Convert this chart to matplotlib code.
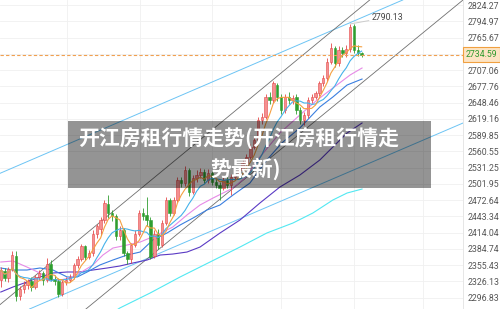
import matplotlib
matplotlib.use('Agg')
import matplotlib.pyplot as plt
import matplotlib.transforms as mtransforms
from matplotlib.patches import Rectangle
import numpy as np
import pandas as pd

# candles
opens = [2328, 2344, 2332, 2348, 2372, 2300, 2312, 2320, 2327, 2316,
         2334, 2341, 2328, 2358, 2331, 2327, 2304, 2325, 2328, 2334,
         2355, 2366, 2389, 2370, 2377, 2412, 2420, 2437, 2466, 2449,
         2443, 2407, 2418, 2377, 2366, 2392, 2412, 2449, 2446, 2437,
         2372, 2412, 2392, 2431, 2472, 2449, 2473, 2509, 2503, 2526,
         2488, 2512, 2518, 2524, 2509, 2521, 2506, 2500, 2494, 2509,
         2500, 2515, 2518, 2527, 2539, 2551, 2569, 2581, 2617, 2623,
         2659, 2653, 2680, 2659, 2635, 2659, 2653, 2658, 2635, 2617,
         2626, 2653, 2659, 2665, 2683, 2692, 2722, 2746, 2719, 2743,
         2737, 2745, 2786, 2743, 2737]
closes = [2346, 2332, 2348, 2373, 2300, 2312, 2320, 2326, 2316, 2334,
          2341, 2328, 2358, 2331, 2327, 2304, 2325, 2328, 2334, 2355,
          2367, 2389, 2370, 2377, 2412, 2425, 2437, 2467, 2449, 2443,
          2407, 2419, 2377, 2366, 2392, 2412, 2449, 2443, 2437, 2370,
          2412, 2392, 2431, 2473, 2449, 2473, 2509, 2503, 2527, 2488,
          2512, 2518, 2524, 2509, 2521, 2506, 2500, 2494, 2509, 2500,
          2515, 2518, 2527, 2539, 2551, 2569, 2581, 2617, 2623, 2659,
          2653, 2683, 2659, 2635, 2659, 2653, 2656, 2635, 2617, 2626,
          2653, 2659, 2665, 2683, 2692, 2722, 2746, 2719, 2743, 2737,
          2745, 2785, 2743, 2737, 2734.59]
highs = [2352, 2350, 2352, 2380, 2380, 2318, 2326, 2331, 2333, 2338,
         2346, 2345, 2368, 2364, 2338, 2332, 2328, 2333, 2340, 2360,
         2372, 2394, 2392, 2382, 2418, 2430, 2442, 2473, 2482, 2455,
         2447, 2425, 2422, 2380, 2396, 2418, 2455, 2458, 2478, 2442,
         2418, 2420, 2436, 2478, 2476, 2478, 2514, 2515, 2534, 2530,
         2518, 2526, 2530, 2528, 2528, 2525, 2512, 2505, 2514, 2516,
         2520, 2524, 2532, 2544, 2556, 2574, 2586, 2622, 2630, 2664,
         2668, 2688, 2684, 2664, 2664, 2668, 2662, 2664, 2640, 2632,
         2658, 2664, 2670, 2688, 2698, 2728, 2755, 2750, 2750, 2748,
         2752, 2790.13, 2790, 2752, 2740]
lows = [2316, 2326, 2325, 2345, 2291, 2293, 2305, 2312, 2308, 2312,
        2328, 2320, 2325, 2326, 2320, 2297, 2300, 2320, 2324, 2330,
        2350, 2362, 2364, 2366, 2372, 2405, 2410, 2432, 2440, 2435,
        2400, 2400, 2372, 2358, 2360, 2388, 2408, 2436, 2425, 2366,
        2368, 2385, 2388, 2428, 2443, 2445, 2470, 2496, 2498, 2480,
        2484, 2506, 2512, 2503, 2504, 2500, 2494, 2472, 2490, 2494,
        2482, 2510, 2514, 2522, 2534, 2546, 2564, 2576, 2610, 2618,
        2645, 2648, 2652, 2628, 2630, 2646, 2646, 2628, 2610, 2608,
        2620, 2648, 2654, 2660, 2678, 2688, 2718, 2712, 2715, 2730,
        2730, 2740, 2738, 2732, 2730]

# moving average lines: (bar, price)
ma20_x = [0, 3.2, 6.8, 10.2, 12.8, 15.4, 18.0, 20.6, 24.0, 26.6, 29.2, 32.9,
          36.3, 40.7, 44.8, 48.5, 51.9, 55.3, 60.5, 63.6, 67.5, 72.7, 77.9,
          82.4, 86.5, 91.0, 94.1]
ma20_y = [2360.9, 2362.7, 2351.9, 2341.1, 2328.4, 2328.4, 2332.0, 2341.1,
          2355.5, 2373.5, 2386.1, 2391.5, 2396.9, 2409.6, 2424.0, 2445.7,
          2463.7, 2476.3, 2494.3, 2512.4, 2550.2, 2593.5, 2625.9, 2653.0,
          2674.6, 2698.1, 2710.7]
ma30_x = [0, 3.2, 6.8, 10.2, 13.6, 17.3, 19.9, 22.5, 25.8, 29.2, 32.9, 36.3,
          39.6, 43.3, 46.7, 50.1, 53.7, 57.1, 60.5, 64.9, 69.3, 73.2, 77.9,
          83.1, 86.5, 90.2, 94.1]
ma30_y = [2350.1, 2346.5, 2346.5, 2350.1, 2346.5, 2333.9, 2333.9, 2342.9,
          2355.5, 2364.5, 2373.5, 2378.9, 2400.6, 2413.2, 2427.6, 2440.3,
          2454.7, 2463.7, 2481.7, 2503.3, 2544.8, 2575.5, 2602.5, 2640.4,
          2658.4, 2680.0, 2690.8]
ma60_x = [0, 3.2, 6.8, 10.2, 13.6, 17.3, 20.6, 24.0, 27.7, 31.0, 34.4, 38.1,
          41.5, 44.8, 48.5, 51.9, 57.1, 62.3, 67.5, 72.7, 77.9,
          83.1, 86.5, 90.2, 94.1]
ma60_y = [2306.8, 2315.9, 2324.8, 2333.9, 2341.1, 2342.9, 2342.9, 2346.5,
          2350.1, 2353.7, 2359.1, 2364.5, 2373.5, 2375.3, 2378.9, 2387.9,
          2413.2, 2436.6, 2467.3, 2496.1, 2517.7, 2544.8,
          2568.2, 2593.5, 2611.5]
ma120_x = [29.7, 31.0, 38.9, 46.7, 54.5, 62.3, 69.3, 76.1, 81.3, 86.5, 90.2, 94.1]
ma120_y = [2272.0, 2278.0, 2305.0, 2333.9, 2360.9, 2387.9, 2413.2, 2431.2,
           2449.3, 2472.7, 2485.3, 2492.5]

# channel lines, two anchor points each: (bar0, price0, bar1, price1)
blue_upper = (0, 2521.4, 104.7, 2833.3)
blue_lower = (8.1, 2278.0, 120.4, 2611.5)
gray_upper = (0, 2285.2, 96.1, 2833.3)
gray_lower = (22.5, 2278.0, 120.4, 2833.3)

ytick_vals = [2296.83, 2326.13, 2355.43, 2384.74, 2414.04, 2443.34, 2472.64,
              2501.95, 2531.25, 2560.55, 2589.85, 2619.16, 2648.46, 2677.76,
              2707.06, 2736.37, 2765.67, 2794.97, 2824.27]
vgrid_bars = [17.3, 36.3, 55.1, 73.0, 92.0, 110.0]

last_price = 2734.59
max_price = 2790.13
max_bar = 91
title_1 = '开江房租行情走势(开江房租行情走'
title_2 = '势最新)'

UP_FACE = '#f49090'
UP_EDGE = '#e54848'
DOWN = '#2f9e2f'
NUM_FONT = ['Roboto', 'DejaVu Sans']


def Plot_Candles(ax, o, c, h, l):
    x = np.arange(len(c))
    o = np.asarray(o, float)
    c = np.asarray(c, float)
    up = c >= o
    body_lo = np.minimum(o, c)
    body_h = np.maximum(np.abs(c - o), 0.8)
    cols = np.where(up, UP_EDGE, DOWN)
    ax.vlines(x, l, h, colors=cols, lw=0.6, zorder=3)
    ax.bar(x[up], body_h[up], bottom=body_lo[up], width=0.62,
           color=UP_FACE, edgecolor=UP_EDGE, linewidth=0.4, zorder=4)
    ax.bar(x[~up], body_h[~up], bottom=body_lo[~up], width=0.62,
           color=DOWN, edgecolor=DOWN, linewidth=0.4, zorder=4)


fig = plt.figure(figsize=(5.0, 3.09), dpi=100)
ax = fig.add_axes([0, 0, 463 / 500, 1])

# grid
for v in ytick_vals:
    ax.axhline(v, color='#f0f0f0', lw=0.6, zorder=0)
for b in vgrid_bars:
    ax.axvline(b, color='#f0f0f0', lw=0.6, zorder=0)

# channels
for (x0, y0, x1, y1) in (blue_upper, blue_lower):
    ax.axline((x0, y0), (x1, y1), color='#6cc4f4', lw=0.7, zorder=2)
for (x0, y0, x1, y1) in (gray_upper, gray_lower):
    ax.axline((x0, y0), (x1, y1), color='#6f6f6f', lw=0.6, zorder=2)

# moving averages
cl = pd.Series(closes)
bars = np.arange(len(closes))
ax.plot(ma120_x, ma120_y, color='#52e8f2', lw=0.8, zorder=2)
ax.plot(ma60_x, ma60_y, color='#5a3ac4', lw=0.8, zorder=2)
ax.plot(ma30_x, ma30_y, color='#3a7fe0', lw=0.8, zorder=2)
ax.plot(ma20_x, ma20_y, color='#e68ae6', lw=0.8, zorder=2)
ax.plot(bars, cl.rolling(10, min_periods=1).mean(), color='#45b2ea', lw=0.8, zorder=5)
ax.plot(bars, cl.rolling(5, min_periods=1).mean(), color='#f5a040', lw=0.8, zorder=5)

Plot_Candles(ax, opens, closes, highs, lows)

# last price line + label on the axis
ax.axhline(last_price, color='#f0a050', lw=0.8, ls=(0, (3, 2)), zorder=6)
trans = mtransforms.blended_transform_factory(ax.transAxes, ax.transData)
ax.text(1.006, last_price, '{:.2f}'.format(last_price), transform=trans,
        va='center', ha='left', fontsize=6.3, color='#2e9a2e',
        family=NUM_FONT, clip_on=False,
        bbox=dict(boxstyle='square,pad=0.35', fc='#fde4c4', ec='#f0a040', lw=0.8),
        zorder=8)

# max price note
ax.annotate('{:.2f}'.format(max_price), xy=(max_bar, max_price),
            xytext=(max_bar + 5.6, max_price + 12), fontsize=6.3, color='#444444',
            family=NUM_FONT, va='center',
            arrowprops=dict(arrowstyle='-', color='#cccccc', lw=0.7,
                            shrinkA=0, shrinkB=0))

ax.set_xlim(-0.2, 120.4)
ax.set_ylim(2276.2, 2833.3)
ax.set_xticks([])
ax.yaxis.tick_right()
ax.set_yticks(ytick_vals)
ax.set_yticklabels(['{:.2f}'.format(v) if abs(v - 2736.37) > 0.1 else ''
                    for v in ytick_vals])
ax.tick_params(axis='y', length=0, pad=3, labelsize=6.3, labelcolor='#555555')
for lab in ax.get_yticklabels():
    lab.set_family(NUM_FONT)
for s in ['top', 'left', 'bottom']:
    ax.spines[s].set_visible(False)
ax.spines['right'].set_color('#e6e6e6')
ax.spines['right'].set_linewidth(0.7)

# title banner over the chart
fig.add_artist(Rectangle((68 / 500, 1 - 188 / 309), 363 / 500, 67 / 309,
                         transform=fig.transFigure, facecolor='black',
                         alpha=0.42, edgecolor='none', zorder=10))
fig.text(0.478, 1 - 139 / 309, title_1, ha='center', va='center', color='white',
         fontsize=15, fontweight='bold', family=['Noto Sans CJK SC', 'DejaVu Sans'],
         zorder=11)
fig.text(0.492, 1 - 169 / 309, title_2, ha='center', va='center', color='white',
         fontsize=15, fontweight='bold', family=['Noto Sans CJK SC', 'DejaVu Sans'],
         zorder=11)

plt.savefig('out.png', dpi=100, facecolor='w')
plt.close()
